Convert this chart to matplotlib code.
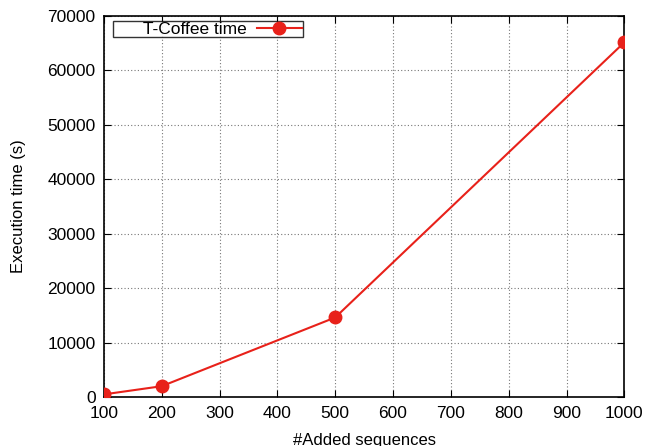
import matplotlib
matplotlib.use("Agg")
import matplotlib.pyplot as plt

added_sequences = [100, 200, 500, 1000]
exec_time = [550, 2050, 14650, 65100]
x_ticks = [100, 200, 300, 400, 500, 600, 700, 800, 900, 1000]
y_ticks = [0, 10000, 20000, 30000, 40000, 50000, 60000, 70000]

plt.rcParams['font.family'] = ['Liberation Sans', 'DejaVu Sans']
fig = plt.figure(figsize=(6.45, 4.46), dpi=100)
ax = fig.add_axes([0.161, 0.109, 0.807, 0.856])
ax.plot(added_sequences, exec_time, color='#e8211a', lw=1.5, marker='o',
        markersize=9, label='      T-Coffee time', zorder=3)
ax.set_xlim(100, 1000)
ax.set_ylim(0, 70000)
ax.set_xticks(x_ticks)
ax.set_yticks(y_ticks)
ax.tick_params(direction='in', top=True, right=True, labelsize=12.5, length=5, pad=6)
ax.grid(True, color='#777777', linestyle=(0, (1, 2)), linewidth=0.8)
for s in ax.spines.values():
    s.set_linewidth(1.2)
ax.set_xlabel('#Added sequences', fontsize=12, labelpad=9)
ax.set_ylabel('Execution time (s)', fontsize=12, labelpad=15)
leg = ax.legend(loc='upper left', fontsize=12.5, frameon=True, fancybox=False,
                borderpad=0.05, handlelength=2.6, markerfirst=False,
                bbox_to_anchor=(0.017, 0.987), borderaxespad=0, handletextpad=0.6)
leg.get_frame().set_edgecolor('black')
leg.get_frame().set_linewidth(1.0)
fig.savefig('out.png', dpi=100)
